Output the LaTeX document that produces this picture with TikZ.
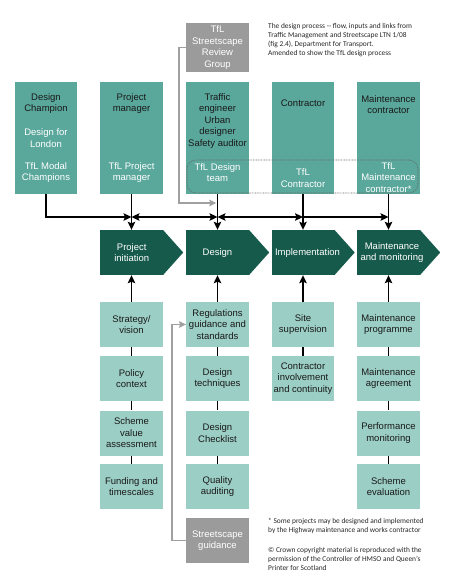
\documentclass[tikz,border=0pt]{standalone}
\usepackage{fontspec}
\setmainfont{Liberation Sans}
\newfontfamily\notefont{Carlito}
\usetikzlibrary{arrows.meta}
\definecolor{midteal}{HTML}{5AA79B}
\definecolor{darkteal}{HTML}{165A4C}
\definecolor{lightteal}{HTML}{9BCEC5}
\definecolor{boxgray}{HTML}{9B9B9B}
\definecolor{linegray}{HTML}{A0A0A0}
\definecolor{txtblack}{HTML}{1A1A1A}
\tikzset{
  topbox/.style={fill=midteal, draw=none, minimum width=62.5pt, minimum height=112pt, inner sep=0pt},
  lowbox/.style={fill=lightteal, draw=none, minimum width=62.5pt, minimum height=45pt, inner sep=0pt,
                 align=center, text=txtblack, font=\fontsize{9.5}{11.5}\selectfont},
  graybox/.style={fill=boxgray, draw=none, minimum width=62.5pt, minimum height=49pt, inner sep=0pt,
                 align=center, text=white, font=\fontsize{9.5}{11.5}\selectfont},
  chevbox/.style={fill=darkteal, draw=none, minimum width=63pt, minimum height=45pt, inner sep=0pt},
  btxt/.style={align=center, inner sep=0pt, text=txtblack, font=\fontsize{9.5}{11.5}\selectfont},
  wtxt/.style={align=center, inner sep=0pt, text=white, font=\fontsize{9.5}{11.5}\selectfont},
  notetxt/.style={align=left, inner sep=0pt, anchor=north west, text=black!85,
                 font=\notefont\fontsize{7.4}{8.9}\selectfont},
  conn/.style={draw=black, line width=1.4pt},
  arr/.style={-{Stealth[length=8pt,width=7.5pt,inset=1.5pt]}},
  dblarr/.style={{Stealth[length=8pt,width=7.5pt,inset=1.5pt]}-{Stealth[length=8pt,width=7.5pt,inset=1.5pt]}},
  gconn/.style={draw=linegray, line width=1.3pt},
  garr/.style={-{Stealth[length=7pt,width=6.5pt,inset=1pt]}},
  grpbox/.style={draw=black!60, line width=0.6pt, dash pattern=on 0.8pt off 0.8pt, rounded corners=9pt,
                 minimum width=231pt, minimum height=33pt, inner sep=0pt}
}
\begin{document}
\begin{tikzpicture}[x=1pt,y=-1pt]
\useasboundingbox (0,0) rectangle (450,576);

% ---- top row boxes
\node[graybox] (rg) at (217.5,47.5) {TfL\\Streetscape\\Review\\Group};
\node[topbox] (tb1) at (46,138) {};
\node[topbox] (tb2) at (131.5,138) {};
\node[topbox] (tb3) at (217.5,138) {};
\node[topbox] (tb4) at (303,138) {};
\node[topbox] (tb5) at (388.5,138) {};

\node[btxt] (t1a) at (46,103.5) {Design\\Champion};
\node[wtxt] (t1b) at (46,138) {Design for\\London};
\node[wtxt] (t1c) at (46,172.5) {TfL Modal\\Champions};
\node[btxt] (t2a) at (131.5,103.5) {Project\\manager};
\node[wtxt] (t2b) at (131.5,172.5) {TfL Project\\manager};
\node[btxt] (t3a) at (217.5,120.7) {Traffic\\engineer\\Urban\\designer\\Safety auditor};
\node[wtxt] (t3b) at (217.5,172.5) {TfL Design\\team};
\node[btxt] (t4a) at (303,103.2) {Contractor};
\node[wtxt] (t4b) at (303,178) {TfL\\Contractor};
\node[btxt] (t5a) at (388.5,104.7) {Maintenance\\contractor};
\node[wtxt] (t5b) at (388.5,177.2) {TfL\\Maintenance\\contractor*};

\node[grpbox] (grp) at (302.5,176.5) {};

% ---- chevrons
\node[chevbox] (c1) at (131.5,252.5) {};
\node[chevbox] (c2) at (217.5,252.5) {};
\node[chevbox] (c3) at (303,252.5) {};
\node[chevbox] (c4) at (388.5,252.5) {};
\foreach \c in {c1,c2,c3,c4}{
  \fill[darkteal] ([xshift=-0.3pt]\c.north east) -- ([xshift=20pt]\c.east) -- ([xshift=-0.3pt]\c.south east) -- cycle;
}
\node[wtxt] (c1t) at (131.7,252.7) {Project\\initiation};
\node[wtxt] (c2t) at (217.5,252.7) {Design};
\node[wtxt] (c3t) at (307.5,252.7) {Implementation};
\node[wtxt] (c4t) at (392,252.7) {Maintenance\\and monitoring};

% ---- lower boxes
\node[lowbox] (b11) at (131.5,324.5) {Strategy/\\vision};
\node[lowbox] (b12) at (131.5,378.5) {Policy\\context};
\node[lowbox] (b13) at (131.5,433) {Scheme\\value\\assessment};
\node[lowbox] (b14) at (131.5,486.5) {Funding and\\timescales};

\node[lowbox] (b21) at (217.5,324.5) {Regulations\\guidance and\\standards};
\node[lowbox] (b22) at (217.5,378.5) {Design\\techniques};
\node[lowbox] (b23) at (217.5,433) {Design\\Checklist};
\node[lowbox] (b24) at (217.5,486.5) {Quality\\auditing};
\node[graybox, minimum height=45pt] (sg) at (217.5,540.5) {Streetscape\\guidance};

\node[lowbox] (b31) at (303,324.5) {Site\\supervision};
\node[lowbox] (b32) at (303,378.5) {Contractor\\involvement\\and continuity};

\node[lowbox] (b41) at (388.5,324.5) {Maintenance\\programme};
\node[lowbox] (b42) at (388.5,378.5) {Maintenance\\agreement};
\node[lowbox] (b43) at (388.5,433) {Performance\\monitoring};
\node[lowbox] (b44) at (388.5,486.5) {Scheme\\evaluation};

% ---- top connectors
\coordinate (j2) at (131.5,217);
\coordinate (j3) at (217.5,217);
\coordinate (j4) at (303,217);
\coordinate (j5) at (388.5,217);
\draw[conn,arr] (tb1.south) |- (j2);
\draw[conn,dblarr] (j2) -- (j3);
\draw[conn,dblarr] (j3) -- (j4);
\draw[conn,arr] (j4) -- (j5);
\draw[conn,arr] (tb2.south) -- (c1.north);
\draw[conn,arr] (tb3.south) -- (c2.north);
\draw[conn,arr] (tb4.south) -- (c3.north);
\draw[conn,arr] (tb5.south) -- (c4.north);

% gray review group link
\coordinate (gA) at (179,203);
\coordinate (gB) at (216.3,203);
\draw[gconn,garr] (rg.west) -| (gA) -- (gB);

% ---- bottom connectors
\draw[conn,arr] (b11.north) -- (c1.south);
\draw[conn,arr] (b21.north) -- (c2.south);
\draw[conn,arr] (b31.north) -- (c3.south);
\draw[conn,arr] (b41.north) -- (c4.south);
\draw[conn] (b11.south) -- (b12.north);
\draw[conn] (b12.south) -- (b13.north);
\draw[conn] (b13.south) -- (b14.north);
\draw[conn] (b21.south) -- (b22.north);
\draw[conn] (b22.south) -- (b23.north);
\draw[conn] (b23.south) -- (b24.north);
\draw[conn] (b31.south) -- (b32.north);
\draw[conn] (b41.south) -- (b42.north);
\draw[conn] (b42.south) -- (b43.north);
\draw[conn] (b43.south) -- (b44.north);

% gray streetscape guidance link
\coordinate (gC) at (172,324.5);
\draw[gconn,garr] (sg.west) -| (gC) -- (b21.west);

% ---- notes
\node[notetxt] (n1) at (268,23) {The design process -- flow, inputs and links from\\Traffic Management and Streetscape LTN 1/08\\(fig 2.4), Department for Transport.\\Amended to show the TfL design process};
\node[notetxt] (n2) at (268,518.5) {* Some projects may be designed and implemented\\by the Highway maintenance and works contractor};
\node[notetxt] (n3) at (268,547) {© Crown copyright material is reproduced with the\\permission of the Controller of HMSO and Queen’s\\Printer for Scotland};
\end{tikzpicture}
\end{document}
